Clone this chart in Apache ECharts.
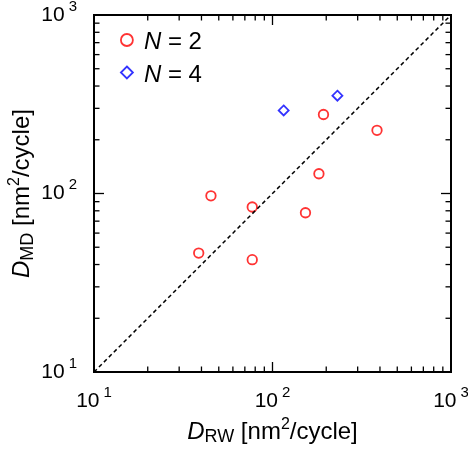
<!DOCTYPE html>
<html><head><meta charset="utf-8">
<script src="https://cdn.jsdelivr.net/npm/echarts@6/dist/echarts.min.js"></script>
<style>html,body{margin:0;padding:0;background:#fff}#c{width:468px;height:450px}</style>
</head><body><div id="c"></div>
<script>
// Data
const n2RW = [38.6, 45.2, 77, 77, 153, 182, 193, 385];
const n2MD = [46.4, 97, 84, 42.6, 78, 129, 277, 226];
const n4RW = [115.5, 231];
const n4MD = [292, 353];
const diagonal = [[10, 10], [1000, 1000]];
const majorTicks = [100];
const minorTicks = [20, 30, 40, 50, 60, 70, 80, 90, 200, 300, 400, 500, 600, 700, 800, 900];
const FONT = 'Liberation Sans, Arial, sans-serif';
const AXMIN = 10, AXMAX = 1000;

const zip = (a, b) => a.map((v, i) => [v, b[i]]);

function tickRender(isX, len) {
  return function (params, api) {
    const v = api.value(0);
    const st = () => ({ stroke: '#000', lineWidth: 1.3 });
    if (isX) {
      const b = api.coord([v, AXMIN]);
      const t = api.coord([v, AXMAX]);
      return { type: 'group', children: [
        { type: 'line', shape: { x1: b[0], y1: b[1], x2: b[0], y2: b[1] - len }, style: st() },
        { type: 'line', shape: { x1: t[0], y1: t[1], x2: t[0], y2: t[1] + len }, style: st() }
      ]};
    } else {
      const l = api.coord([AXMIN, v]);
      const r = api.coord([AXMAX, v]);
      return { type: 'group', children: [
        { type: 'line', shape: { x1: l[0], y1: l[1], x2: l[0] + len, y2: l[1] }, style: st() },
        { type: 'line', shape: { x1: r[0], y1: r[1], x2: r[0] - len, y2: r[1] }, style: st() }
      ]};
    }
  };
}
function tickSeries(values, isX, len) {
  return {
    type: 'custom', silent: true, clip: false,
    renderItem: tickRender(isX, len),
    data: values.map(v => [v, AXMIN])
  };
}

const labelRich = {
  b: { fontSize: 21, fontFamily: FONT, color: '#000' },
  s: { fontSize: 15, fontFamily: FONT, color: '#000', padding: [0, 0, 17, 4] }
};
const powFmt = v => '{b|10}{s|' + Math.round(Math.log10(v)) + '}';
const nameRich = {
  i: { fontSize: 24, fontFamily: FONT, fontStyle: 'italic', color: '#000' },
  sub: { fontSize: 18, fontFamily: FONT, color: '#000', padding: [11, 0, 0, 0] },
  n: { fontSize: 24, fontFamily: FONT, color: '#000' },
  sup: { fontSize: 16, fontFamily: FONT, color: '#000', padding: [0, 0, 15, 0] }
};

const chart = echarts.init(document.getElementById('c'), null, { renderer: 'canvas' });
chart.setOption({
  animation: false,
  backgroundColor: '#fff',
  grid: { left: 94, right: 17, top: 15, bottom: 78, show: true, borderColor: '#000', borderWidth: 2, outerBoundsMode: 'none' },
  xAxis: {
    type: 'log', logBase: 10, min: AXMIN, max: AXMAX,
    axisLine: { show: false }, axisTick: { show: false }, splitLine: { show: false },
    axisLabel: { margin: 13, formatter: powFmt, rich: labelRich },
    name: '{i|D}{sub|RW}{n| [nm}{sup|2}{n|/cycle]}',
    nameLocation: 'middle', nameGap: 41,
    nameTextStyle: { rich: nameRich }
  },
  yAxis: {
    type: 'log', logBase: 10, min: AXMIN, max: AXMAX,
    axisLine: { show: false }, axisTick: { show: false }, splitLine: { show: false },
    axisLabel: { margin: 17, formatter: powFmt, rich: labelRich },
    name: '{i|D}{sub|MD}{n| [nm}{sup|2}{n|/cycle]}',
    nameLocation: 'middle', nameGap: 56, nameMoveOverlap: false,
    nameTextStyle: { rich: nameRich }
  },
  legend: {
    orient: 'vertical', left: 115, top: 24, itemWidth: 12, itemHeight: 12, itemGap: 7,
    textStyle: { fontSize: 24, fontFamily: FONT, color: '#000', lineHeight: 22,
      rich: {
        i: { fontSize: 24, fontFamily: FONT, fontStyle: 'italic', color: '#000', padding: [5, 0, 0, 6] },
        t: { fontSize: 24, fontFamily: FONT, color: '#000', padding: [5, 0, 0, 0] }
      } },
    formatter: name => '{i|N}{t|' + name.slice(1) + '}',
    data: [
      { name: 'N = 2', icon: 'circle', itemStyle: { color: 'rgba(0,0,0,0)', borderColor: '#ff0000', borderWidth: 1.8 } },
      { name: 'N = 4', icon: 'diamond', itemStyle: { color: 'rgba(0,0,0,0)', borderColor: '#0000ff', borderWidth: 1.8 } }
    ]
  },
  series: [
    { type: 'line', data: diagonal, symbol: 'none', silent: true,
      lineStyle: { color: '#000', width: 1.5, type: [4, 3] } },
    tickSeries(majorTicks, true, 10),
    tickSeries(minorTicks, true, 5.5),
    tickSeries(majorTicks, false, 10),
    tickSeries(minorTicks, false, 5.5),
    { name: 'N = 2', type: 'scatter', data: zip(n2RW, n2MD), symbol: 'circle', symbolSize: 9.5,
      itemStyle: { color: 'rgba(0,0,0,0)', borderColor: '#ff0000', borderWidth: 1.8 } },
    { name: 'N = 4', type: 'scatter', data: zip(n4RW, n4MD), symbol: 'diamond', symbolSize: 10,
      itemStyle: { color: 'rgba(0,0,0,0)', borderColor: '#0000ff', borderWidth: 1.8 } }
  ]
});
</script></body></html>
